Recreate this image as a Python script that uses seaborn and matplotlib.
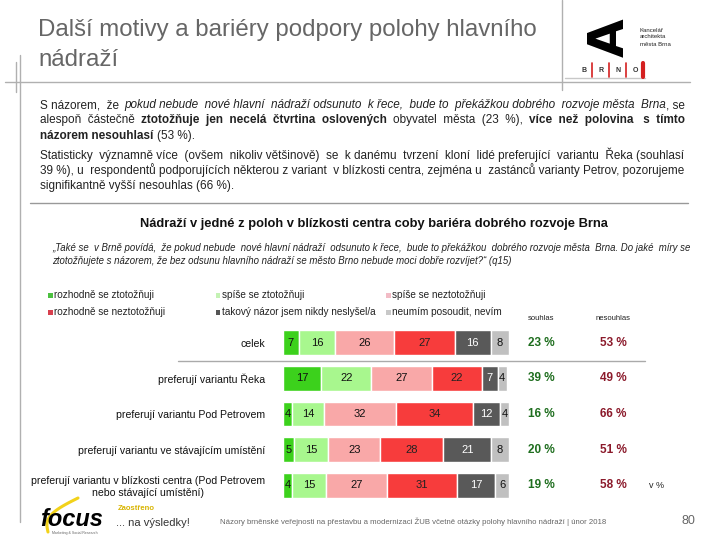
import matplotlib
matplotlib.use("Agg")
import matplotlib.pyplot as plt
import seaborn as sns
import pandas as pd
import numpy as np
from matplotlib.lines import Line2D
from matplotlib.patches import Rectangle

# ---------------- data ----------------
groups = ["celek",
          "preferují variantu Řeka",
          "preferují variantu Pod Petrovem",
          "preferují variantu ve stávajícím umístění",
          "preferují variantu v blízkosti centra (Pod Petrovem\nnebo stávající umístění)"]
answers = ["rozhodně se ztotožňuji", "spíše se ztotožňuji", "spíše se neztotožňuji",
           "rozhodně se neztotožňuji", "takový názor jsem nikdy neslyšel/a",
           "neumím posoudit, nevím"]
rozhodne_ano = [7, 17, 4, 5, 4]
spise_ano = [16, 22, 14, 15, 15]
spise_ne = [26, 27, 32, 23, 27]
rozhodne_ne = [27, 22, 34, 28, 31]
neslysel = [16, 7, 12, 21, 17]
nevim = [8, 4, 4, 8, 6]
souhlas = [23, 39, 16, 20, 19]
nesouhlas = [53, 49, 66, 51, 58]

series = [rozhodne_ano, spise_ano, spise_ne, rozhodne_ne, neslysel, nevim]
bar_colors = ["#3cd11c", "#a8f78e", "#f9a8a8", "#f73c3c", "#595959", "#c0c0c0"]
label_colors = ["#111111", "#111111", "#111111", "#222222", "white", "#111111"]
legend_colors = ["#4cc040", "#c4f2b4", "#f2bcc6", "#d8404e", "#555555", "#c8c8c8"]

W, H = 720, 540
FONT = ["Liberation Sans", "DejaVu Sans"]

sns.set_theme(style="white")
plt.rcParams["font.family"] = FONT

fig = plt.figure(figsize=(7.2, 5.4), dpi=100)
fig.patch.set_facecolor("white")
R = fig.canvas.get_renderer()


def P(x, y):
    return (x / W, 1 - y / H)


def hline(x0, x1, y, color="#aaaaaa", lw=1.0):
    fig.add_artist(Line2D([x0 / W, x1 / W], [1 - y / H, 1 - y / H],
                          transform=fig.transFigure, color=color, lw=lw))


def vline(x, y0, y1, color="#aaaaaa", lw=1.0):
    fig.add_artist(Line2D([x / W, x / W], [1 - y0 / H, 1 - y1 / H],
                          transform=fig.transFigure, color=color, lw=lw))


STY = {"n": {}, "i": {"style": "italic"}, "b": {"weight": "bold"}}


def twidth(s, size, st):
    t = fig.text(0, 0, s, fontsize=size, **STY[st])
    w = t.get_window_extent(R).width
    t.remove()
    return w


def rich_line(x0, x1, y, segs, size, justify=True, color="#222222"):
    """One text object per style run; justified by widening word gaps."""
    runs = []
    for k, (text, st) in enumerate(segs):
        lead = text.startswith(" ") or (k > 0 and segs[k - 1][0].endswith(" "))
        runs.append([st, text.split(), lead])
    sp = twidth("a a", size, "n") - twidth("aa", size, "n")
    inner = sum(len(r[1]) - 1 for r in runs)
    bounds = sum(1 for r in runs[1:] if r[2])
    nat_words = sum(twidth(w, size, r[0]) for r in runs for w in r[1])
    counts = np.ones(max(inner, 0), dtype=int)
    if justify and inner + bounds > 0:
        per = max(1.0, (x1 - x0 - nat_words) / (inner + bounds) / sp)
        acc = 0.0
        for g in range(inner):
            acc += per
            counts[g] = max(1, int(round(acc)))
            acc -= counts[g]
    strings = []
    g = 0
    for st, words, _ in runs:
        s = words[0]
        for w in words[1:]:
            s += " " * counts[g] + w
            g += 1
        strings.append(s)
    widths = [twidth(s, size, r[0]) for s, r in zip(strings, runs)]
    bgap = sp
    if justify and bounds > 0:
        bgap = max(0.8 * sp, (x1 - x0 - sum(widths)) / bounds)
    x = x0
    yb = y + 0.36 * size * 100 / 72
    for i, (s, r, w) in enumerate(zip(strings, runs, widths)):
        if i > 0 and r[2]:
            x += bgap
        fig.text(*P(x, yb), s, fontsize=size, ha="left", va="baseline",
                 color=color, **STY[r[0]])
        x += w


# ---------------- frame lines ----------------
vline(20, 55, 522, "#b0b0b0")
vline(16, 62, 92, "#b0b0b0")
hline(5, 690, 82, "#b0b0b0")
hline(565, 645, 78, "#c8c8c8")
vline(562, 0, 90, "#b0b0b0")
hline(30, 688, 203, "#999999")

# ---------------- title ----------------
fig.text(*P(38, 30), "Další motivy a bariéry podpory polohy hlavního",
         fontsize=17.3, color="#666666", ha="left", va="center")
fig.text(*P(38, 60), "nádraží", fontsize=17.3, color="#666666", ha="left", va="center")

# logo
fig.text(*P(610, 38), "A", fontsize=36, weight="bold", rotation=90,
         ha="center", va="center", color="black", family="DejaVu Sans")
for k, s in enumerate(["Kancelář", "architekta", "města Brna"]):
    fig.text(*P(640, 30 + k * 7), s, fontsize=4.3, ha="left", va="center", color="#222222")
for k, s in enumerate(["B", "R", "N", "O"]):
    fig.text(*P(584 + k * 17, 70), s, fontsize=5, weight="bold", ha="center",
             va="center", color="#333333")
    vline(592 + k * 17, 63, 77, "#d42020", lw=1.2 if k < 3 else 3)

# ---------------- paragraphs ----------------
S = 8.5
rich_line(40, 685, 104, [("S názorem, že ", "n"),
                          ("pokud nebude nové hlavní nádraží odsunuto k řece, bude to překážkou dobrého rozvoje města Brna", "i"),
                          (", se", "n")], S)
rich_line(40, 685, 119, [("alespoň částečně ", "n"),
                          ("ztotožňuje jen necelá čtvrtina oslovených", "b"),
                          (" obyvatel města (23 %), ", "n"),
                          ("více než polovina s tímto", "b")], S)
rich_line(40, 685, 135, [("názorem nesouhlasí", "b"), (" (53 %).", "n")], S, justify=False)
rich_line(40, 685, 155, [("Statisticky významně více (ovšem nikoliv většinově) se k danému tvrzení kloní lidé preferující variantu Řeka (souhlasí", "n")], S)
rich_line(40, 685, 170, [("39 %), u respondentů podporujících některou z variant v blízkosti centra, zejména u zastánců varianty Petrov, pozorujeme", "n")], S)
rich_line(40, 685, 185, [("signifikantně vyšší nesouhlas (66 %).", "n")], S, justify=False)

# chart title and question
fig.text(*P(374, 224), "Nádraží v jedné z poloh v blízkosti centra coby bariéra dobrého rozvoje Brna",
         fontsize=9.3, weight="bold", ha="center", va="center", color="#111111")
rich_line(52, 690, 248, [("„Také se v Brně povídá, že pokud nebude nové hlavní nádraží odsunuto k řece, bude to překážkou dobrého rozvoje města Brna. Do jaké míry se", "i")], 6.9, justify=True)
rich_line(52, 690, 261, [("ztotožňujete s názorem, že bez odsunu hlavního nádraží se město Brno nebude moci dobře rozvíjet?“ (q15)", "i")], 6.9, justify=False)

# ---------------- legend ----------------
leg_pos = [(50, 295), (218, 295), (388, 295), (50, 312), (218, 312), (388, 312)]
for (lx, ly), name, c in zip(leg_pos, answers, legend_colors):
    fig.add_artist(Rectangle(P(lx - 2, ly + 2.5), 4.5 / W, 5 / H,
                             transform=fig.transFigure, facecolor=c, edgecolor="none"))
    fig.text(*P(lx + 4, ly), name, fontsize=7.2, ha="left", va="center", color="#222222")

fig.text(*P(541, 319), "souhlas", fontsize=5.5, ha="center", va="center", color="#222222")
fig.text(*P(613, 319), "nesouhlas", fontsize=5.5, ha="center", va="center", color="#222222")

# ---------------- bar chart ----------------
ax = fig.add_axes([283 / W, 1 - 503 / H, 226 / W, 178 / H])
lefts = np.zeros(len(groups))
for name, vals, c, lc in zip(answers, series, bar_colors, label_colors):
    df = pd.DataFrame({"group": groups, "value": vals})
    sns.barplot(data=df, x="value", y="group", order=groups, orient="h",
                color=c, saturation=1, width=0.7, errorbar=None,
                left=lefts.copy(), edgecolor="white", linewidth=1, ax=ax)
    ax.bar_label(ax.containers[-1], label_type="center", fontsize=8, color=lc)
    lefts = lefts + np.array(vals)

ax.set_xlim(0, 100)
ax.set_ylim(4.5, -0.5)
ax.set_xlabel("")
ax.set_ylabel("")
ax.set_xticks([])
ax.set_yticks(range(len(groups)))
ax.set_yticklabels(groups, fontsize=7.6, color="#111111")
for t in ax.get_yticklabels():
    t.set_multialignment("center")
ax.tick_params(axis="y", length=0, pad=13)
for s in ax.spines.values():
    s.set_visible(False)
ax.set_facecolor("none")

tr = ax.get_yaxis_transform()
for i, (a, b) in enumerate(zip(souhlas, nesouhlas)):
    ax.text(1.1416, i, f"{a} %", transform=tr, ha="center", va="center",
            fontsize=8.5, weight="bold", color="#1f6e1f", clip_on=False)
    ax.text(1.460, i, f"{b} %", transform=tr, ha="center", va="center",
            fontsize=8.5, weight="bold", color="#8b1a2b", clip_on=False)
ax.text(1.62, 4, "v %", transform=tr, ha="left", va="center", fontsize=6.5,
        color="#222222", clip_on=False)
ax.plot([-0.465, 1.60], [0.5, 0.5], transform=tr, color="#aaaaaa", lw=1, clip_on=False)

# ---------------- footer ----------------
tt = np.linspace(0, 1, 30)
xs = 48 + 30 * tt - 12 * np.sin(np.pi * tt)
ys = 532 - 34 * tt
fig.add_artist(Line2D(xs / W, 1 - ys / H, transform=fig.transFigure, color="#f2d21a", lw=2.2))
fig.text(*P(40, 520), "focus", fontsize=17, weight="bold", style="italic",
         ha="left", va="center", color="black")
fig.text(*P(52, 533), "Marketing & Social Research", fontsize=2.5, ha="left",
         va="center", color="#666666")
fig.text(*P(118, 509), "Zaostřeno", fontsize=5.5, weight="bold", ha="left",
         va="center", color="#d8b400")
fig.text(*P(116, 523), "... na výsledky!", fontsize=8, ha="left", va="center", color="#333333")
fig.text(*P(220, 522), "Názory brněnské veřejnosti na přestavbu a modernizaci ŽUB včetně otázky polohy hlavního nádraží | únor 2018",
         fontsize=5.6, ha="left", va="center", color="#666666")
fig.text(*P(688, 521), "80", fontsize=9, ha="center", va="center", color="#666666")

fig.savefig("out.png", dpi=100)
